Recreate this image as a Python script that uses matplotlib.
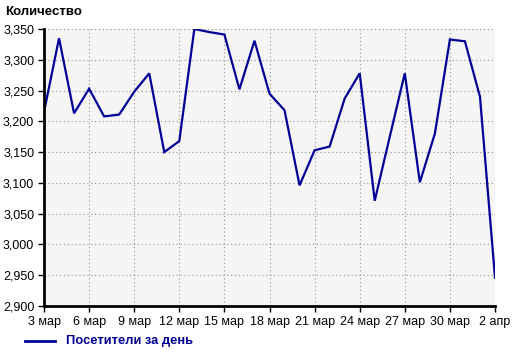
import matplotlib
matplotlib.use("Agg")
import matplotlib.pyplot as plt
from matplotlib.lines import Line2D
from matplotlib.ticker import FuncFormatter, MultipleLocator

plt.rcParams["font.family"] = ["Liberation Sans", "DejaVu Sans"]

# daily visitors, 3 Mar .. 2 Apr
days = list(range(31))
visitors = [3215, 3335, 3213, 3253, 3208, 3211, 3248, 3278, 3150, 3168,
            3350, 3345, 3341, 3252, 3331, 3245, 3218, 3096, 3153, 3159,
            3237, 3278, 3071, 3175, 3278, 3101, 3180, 3333, 3330, 3240,
            2946]
tick_pos = [0, 3, 6, 9, 12, 15, 18, 21, 24, 27, 30]
tick_labels = ["3 мар", "6 мар", "9 мар", "12 мар", "15 мар", "18 мар",
               "21 мар", "24 мар", "27 мар", "30 мар", "2 апр"]

LINE = "#000099"

fig = plt.figure(figsize=(5.2, 3.53), dpi=100, facecolor="white")
ax = fig.add_axes([44 / 520, 1 - 306 / 353, (495 - 44) / 520, (306 - 29) / 353])
ax.set_facecolor("#f5f5f5")

ax.plot(days, visitors, color=LINE, linewidth=1.6, solid_joinstyle="miter")

ax.set_xlim(0, 30)
ax.set_ylim(2900, 3350)
ax.set_xticks(tick_pos)
ax.set_xticklabels(tick_labels)
ax.yaxis.set_major_locator(MultipleLocator(50))
ax.yaxis.set_major_formatter(FuncFormatter(lambda v, _: f"{v:,.0f}"))

ax.grid(True, color="#909090", linestyle=(0, (1, 2.5)), linewidth=0.8)
ax.set_axisbelow(True)
ax.spines[["top", "right"]].set_visible(False)
ax.spines[["left", "bottom"]].set_linewidth(2)
ax.spines[["left", "bottom"]].set_color("black")
ax.tick_params(direction="out", length=4, width=1, colors="black", labelsize=9, pad=3)

fig.text(5 / 520, 1 - 12 / 353, "Количество", fontsize=9.5, fontweight="bold",
         ha="left", va="center")

fig.add_artist(Line2D([25 / 520, 55 / 520], [1 - 341 / 353, 1 - 341 / 353],
                      color=LINE, linewidth=2))
fig.text(66 / 520, 1 - 341 / 353, "Посетители за день", fontsize=9.3, fontweight="bold",
         color=LINE, ha="left", va="center")

fig.savefig("out.png", dpi=100)
